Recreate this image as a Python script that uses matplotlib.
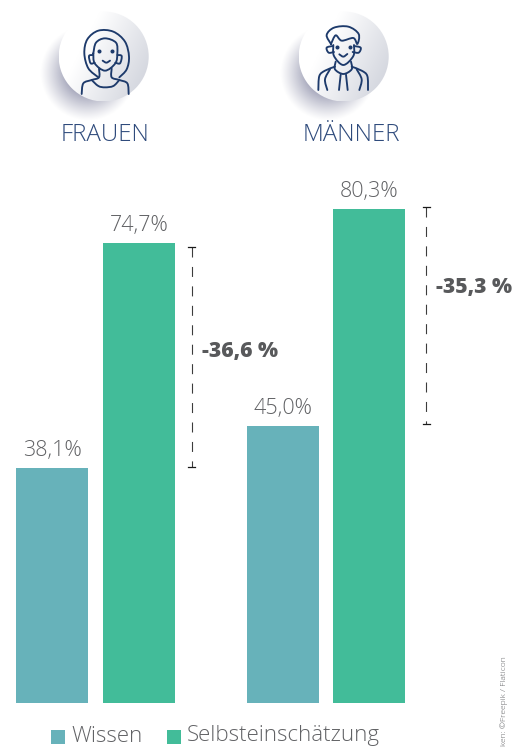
"""
Wissen und Selbsteinschaetzung nach Geschlecht: grouped bars with two round
person icons on top, a dashed difference bracket per group and a legend row.
"""

import matplotlib
matplotlib.use('Agg')
import matplotlib.pyplot as plt
import numpy as np
from matplotlib.patches import PathPatch, Circle, Rectangle
from matplotlib.path import Path

groups = ['FRAUEN', 'MÄNNER']
series_names = ['Wissen', 'Selbsteinschätzung']
wissen = [38.1, 45.0]
selbst = [74.7, 80.3]
differences = ['-36,6 %', '-35,3 %']
credit = 'iken: ©Freepik / Flaticon'

WIDTH, HEIGHT = 523, 747
COL_WISSEN = '#67b2ba'
COL_SELBST = '#42bc99'
COL_TEXT = '#616265'
COL_BOLD = '#58595b'
COL_ICON = '#1d3a6b'
COL_TITLE = '#2f4b7c'
FONT = ['Open Sans', 'DejaVu Sans']

plt.rcParams['font.family'] = FONT

fig = plt.figure(figsize=(WIDTH / 100, HEIGHT / 100), dpi=100, facecolor='white')

# bars: x in pixels, y in percent (6.15 px per percentage point)
ax = fig.add_axes([0, 44.5 / HEIGHT, 1, 615 / HEIGHT])
ax.set_xlim(0, WIDTH)
ax.set_ylim(0, 100)
ax.axis('off')

bar_width = 72
x_wissen = [52, 283]
x_selbst = [139, 369]
ax.bar(x_wissen, wissen, width=bar_width, color=COL_WISSEN)
ax.bar(x_selbst, selbst, width=bar_width, color=COL_SELBST)

for x, value in zip(x_wissen + x_selbst, wissen + selbst):
    ax.annotate(f'{value:.1f}%'.replace('.', ','), (x, value), xytext=(0, 8.5),
                textcoords='offset points', ha='center', va='baseline',
                fontsize=15.5, fontweight=300, color=COL_TEXT)

# everything else lives in a pixel overlay with y pointing down
over = fig.add_axes([0, 0, 1, 1], facecolor='none')
over.set_xlim(0, WIDTH)
over.set_ylim(HEIGHT, 0)
over.axis('off')


def smooth_line(points, ox, lw=1.35):
    """Catmull-Rom line through icon points given in 3x zoom units."""
    pts = np.array([(ox + u / 3, v / 3) for u, v in points], dtype=float)
    padded = np.vstack([pts[0], pts, pts[-1]])
    verts = [pts[0]]
    codes = [Path.MOVETO]
    for i in range(1, len(padded) - 2):
        p0, p1, p2, p3 = padded[i - 1], padded[i], padded[i + 1], padded[i + 2]
        verts += [p1 + (p2 - p0) / 6, p2 - (p3 - p1) / 6, p2]
        codes += [Path.CURVE4, Path.CURVE4, Path.CURVE4]
    over.add_patch(PathPatch(Path(verts, codes), fill=False, edgecolor=COL_ICON,
                             lw=lw, capstyle='round', joinstyle='round', zorder=5))


def draw_badge(ox):
    """Disc with soft shadow to the lower left and a light grey gradient."""
    cx, cy, r = ox + 73.7, 56.5, 45

    # shadow as an RGBA image
    sx, sy = cx - 15.5, cy + 16.5
    xs, ys = np.meshgrid(np.linspace(sx - 50, sx + 50, 200), np.linspace(sy - 50, sy + 50, 200))
    dist = np.hypot(xs - sx, ys - sy)
    fade = np.clip((48 - dist) / 26, 0, 1)
    shadow = np.zeros(dist.shape + (4,))
    shadow[..., :3] = (0.55, 0.56, 0.66)
    shadow[..., 3] = 0.75 * fade ** 1.15
    over.imshow(shadow, extent=(sx - 50, sx + 50, sy + 50, sy - 50), zorder=1,
                aspect='auto', interpolation='bilinear')

    xx, yy = np.meshgrid(np.linspace(-1, 1, 120), np.linspace(-1, 1, 120))
    shade = np.clip((xx + yy * 0.5) * 0.6 + 0.35, 0, 1)
    grad = np.zeros(shade.shape + (3,))
    for k, c1 in enumerate((0.84, 0.85, 0.88)):
        grad[..., k] = 1.0 + (c1 - 1.0) * shade
    im = over.imshow(grad, extent=(cx - r, cx + r, cy + r, cy - r), zorder=2,
                     aspect='auto', interpolation='bilinear')
    im.set_clip_path(Circle((cx, cy), r, transform=over.transData))


def draw_woman(ox):
    smooth_line([(205, 232), (175, 205), (163, 160), (172, 118), (205, 92), (250, 95),
                 (285, 125), (297, 170), (290, 208), (268, 232)], ox)
    smooth_line([(190, 160), (194, 190), (225, 212), (256, 190), (262, 160), (258, 128),
                 (225, 115), (198, 128), (190, 160)], ox)
    smooth_line([(188, 165), (177, 168), (182, 190), (194, 188)], ox)
    smooth_line([(262, 165), (275, 168), (270, 190), (256, 188)], ox)
    smooth_line([(207, 206), (207, 232), (185, 240), (160, 250), (155, 282)], ox)
    smooth_line([(245, 206), (245, 232), (268, 240), (292, 250), (296, 282)], ox)
    smooth_line([(185, 240), (205, 258), (225, 262), (250, 258), (268, 240)], ox)
    smooth_line([(218, 182), (229, 188), (240, 182)], ox)
    over.plot([ox + 207 / 3, ox + 245 / 3], [153 / 3, 153 / 3], ls='none', marker='o',
              ms=1.9, color=COL_ICON, zorder=5)


def draw_man(ox):
    smooth_line([(190, 135), (192, 168), (220, 195), (250, 168), (252, 135)], ox)
    smooth_line([(183, 132), (170, 105), (192, 83), (235, 80), (266, 102), (262, 132),
                 (250, 114), (215, 122), (197, 106), (183, 132)], ox)
    smooth_line([(188, 138), (170, 143), (176, 158), (192, 156)], ox)
    smooth_line([(252, 138), (272, 143), (266, 158), (248, 156)], ox)
    smooth_line([(145, 270), (148, 228), (165, 212), (195, 200)], ox)
    smooth_line([(294, 270), (292, 228), (275, 212), (245, 200)], ox)
    smooth_line([(197, 185), (195, 208), (220, 222), (245, 208), (243, 185)], ox)
    smooth_line([(180, 208), (165, 238), (172, 270)], ox)
    smooth_line([(260, 208), (275, 238), (268, 270)], ox)
    smooth_line([(212, 224), (207, 270)], ox)
    smooth_line([(228, 224), (233, 270)], ox)
    smooth_line([(208, 163), (220, 170), (232, 162)], ox)
    over.plot([ox + 200 / 3, ox + 240 / 3], [141 / 3, 141 / 3], ls='none', marker='o',
              ms=1.9, color=COL_ICON, zorder=5)


draw_badge(30)
draw_woman(30)
draw_badge(270)
draw_man(270)
over.set_xlim(0, WIDTH)
over.set_ylim(HEIGHT, 0)

for x, name in zip([105, 351], groups):
    over.text(x, 141, name, ha='center', va='baseline', fontsize=17.4,
              fontweight=300, color=COL_TITLE, zorder=6)

# difference brackets
brackets = [(191.5, 247, 466.5, 352), (426, 207, 424, 287.5)]
for (x, top, bottom, label_y), label in zip(brackets, differences):
    over.plot([x, x], [top, bottom], color='#3c3c3c', lw=0.8,
              dashes=(9, 8.5), dash_capstyle='butt', zorder=4)
    for y in (top, bottom):
        over.plot([x - 3.5, x + 3.5], [y, y], color='#1a1a1a', lw=0.9, zorder=4)
    over.text(x + 10.5, label_y, label, ha='left', va='center',
              fontsize=15.2, fontweight=800, color=COL_BOLD, zorder=6)

# legend row
for x, color in zip([51, 167], [COL_WISSEN, COL_SELBST]):
    over.add_patch(Rectangle((x, 730), 14, 14, color=color, lw=0))
for x, name in zip([71, 187], series_names):
    over.text(x, 741.5, name, ha='left', va='baseline', fontsize=16,
              fontweight=300, color=COL_TEXT)

over.text(504, 656, credit, rotation=90, ha='center', va='top', fontsize=6.1,
          fontweight=300, color=COL_TEXT)

fig.savefig('out.png', dpi=100)
